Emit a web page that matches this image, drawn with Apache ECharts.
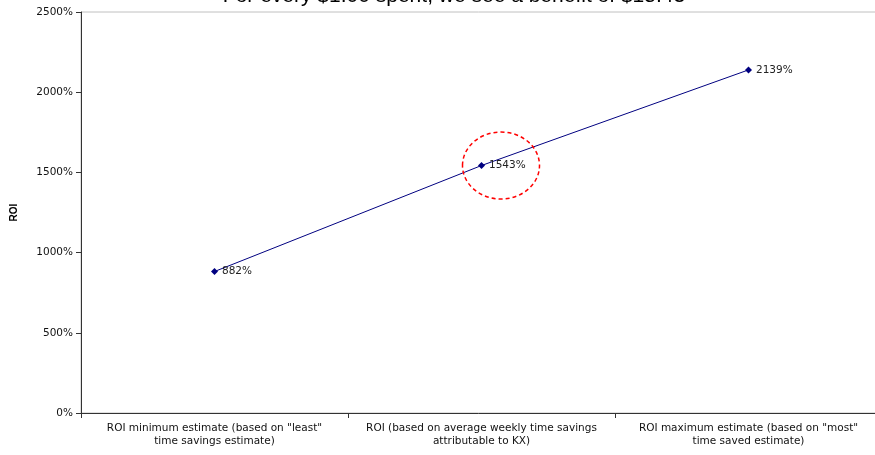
<!DOCTYPE html>
<html>
<head>
<meta charset="utf-8">
<script src="https://cdn.jsdelivr.net/npm/echarts@6/dist/echarts.min.js"></script>
<style>
  html, body { margin: 0; padding: 0; background: #fff; }
  #main { width: 875px; height: 455px; }
</style>
</head>
<body>
<div id="main"></div>
<script>
var categories = [
    'ROI minimum estimate (based on "least"\ntime savings estimate)',
    'ROI (based on average weekly time savings\nattributable to KX)',
    'ROI maximum estimate (based on "most"\ntime saved estimate)'
];
var roiValues = [882, 1543, 2139];
var yTicks = [0, 500, 1000, 1500, 2000, 2500];

var chart = echarts.init(document.getElementById('main'));

chart.setOption({
    animation: false,
    textStyle: { fontFamily: 'DejaVu Sans, Verdana, sans-serif' },
    title: {
        text: 'For every $1.00 spent, we see a benefit of $15.43',
        left: 449,
        top: -19,
        textAlign: 'center',
        textStyle: { fontSize: 21, fontWeight: 'normal', color: '#000', fontFamily: 'Liberation Sans, Arial, sans-serif' }
    },
    grid: {
        left: 81,
        top: 12,
        width: 801,
        bottom: 42,
        outerBoundsMode: 'none',
        containLabel: false,
        show: true,
        borderColor: '#c0c0c0',
        borderWidth: 1
    },
    xAxis: {
        type: 'category',
        data: categories,
        boundaryGap: true,
        axisLine: { lineStyle: { color: '#333', width: 1 } },
        axisTick: { show: true, length: 5, lineStyle: { color: '#333' } },
        axisLabel: { fontSize: 10.5, color: '#111', lineHeight: 13, margin: 9, interval: 0 }
    },
    yAxis: {
        type: 'value',
        min: yTicks[0],
        max: yTicks[yTicks.length - 1],
        interval: 500,
        name: 'ROI',
        nameLocation: 'middle',
        nameGap: 62,
        nameTextStyle: { fontSize: 10, fontWeight: 'bold', color: '#000', fontFamily: 'Liberation Sans, Arial, sans-serif' },
        axisLine: { show: true, lineStyle: { color: '#333', width: 1 } },
        axisTick: { show: true, length: 5, lineStyle: { color: '#333' } },
        splitLine: { show: false },
        axisLabel: {
            fontSize: 10.5, color: '#111', margin: 8,
            formatter: function (v) { return v + '%'; }
        }
    },
    series: [{
        type: 'line',
        data: roiValues,
        symbol: 'diamond',
        symbolSize: 7,
        lineStyle: { color: '#000080', width: 1 },
        itemStyle: { color: '#000080' },
        label: {
            show: true,
            position: 'right',
            distance: 4,
            fontSize: 10.5,
            color: '#222',
            formatter: function (p) { return p.value + '%'; }
        }
    }]
});

// red dashed ring around the average estimate
var c = chart.convertToPixel({ seriesIndex: 0 }, [1, roiValues[1]]);
chart.setOption({
    graphic: [{
        type: 'ellipse',
        shape: { cx: c[0] + 19.5, cy: c[1], rx: 38.5, ry: 33.5 },
        style: { fill: 'none', stroke: '#ff0000', lineWidth: 1.5, lineDash: [4, 3] },
        z: 10
    }]
});
</script>
</body>
</html>
